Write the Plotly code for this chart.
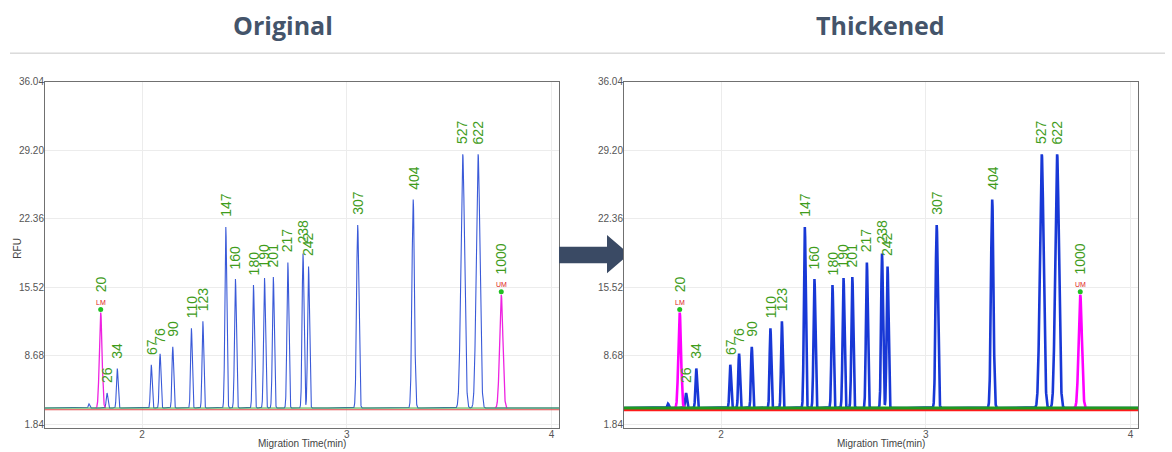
import numpy as np
import plotly.graph_objects as go

# ---------------- data ----------------
sizes = [20, 26, 34, 67, 76, 90, 110, 123, 147, 160, 180, 190, 201, 217,
         238, 242, 307, 404, 527, 622, 1000]
times = [1.798, 1.829, 1.879, 2.045, 2.088, 2.150, 2.241, 2.297, 2.409, 2.456,
         2.544, 2.598, 2.641, 2.712, 2.786, 2.813, 3.053, 3.324, 3.566, 3.641, 3.754]
heights = [13.0, 4.98, 7.43, 7.8, 8.9, 9.58, 11.44, 12.13, 21.54, 16.34,
           15.76, 16.44, 16.54, 18.0, 18.9, 17.6, 21.73, 24.28, 28.79, 28.79, 14.78]
widths = [0.0065, 0.004, 0.004, 0.004, 0.004, 0.004, 0.004, 0.004, 0.0045, 0.0045,
          0.0045, 0.0045, 0.0045, 0.0045, 0.0045, 0.0045, 0.0055, 0.006, 0.009, 0.009, 0.008]
markers = {20: "LM", 1000: "UM"}

minor_times = [1.741]
minor_heights = [3.9]
minor_widths = [0.0035]

baseline_green = 3.48
baseline_red = 3.31

y_ticks = [1.84, 8.68, 15.52, 22.36, 29.20, 36.04]
x_ticks = [2, 3, 4]
x_range = [1.526, 4.036]
y_range = [1.45, 36.04]

titles = ["Original", "Thickened"]

# ---------------- build traces ----------------
W, H = 1172, 452
t = np.union1d(np.arange(x_range[0], x_range[1], 0.0005), np.array(times + minor_times))


def peak_sum(sel_times, sel_heights, sel_widths, base):
    y = np.zeros_like(t)
    for ti, hi, wi in zip(sel_times, sel_heights, sel_widths):
        y += (hi - base) * np.exp(-0.5 * ((t - ti) / wi) ** 2)
    return y


blue_idx = [i for i, s in enumerate(sizes) if s not in markers]
mag_idx = [i for i, s in enumerate(sizes) if s in markers]

blue_y = baseline_green + peak_sum([times[i] for i in blue_idx] + minor_times,
                                   [heights[i] for i in blue_idx] + minor_heights,
                                   [widths[i] for i in blue_idx] + minor_widths,
                                   baseline_green)
mag_contrib = peak_sum([times[i] for i in mag_idx], [heights[i] for i in mag_idx],
                       [widths[i] for i in mag_idx], baseline_green)
mag_y = np.where(mag_contrib > 0.01, baseline_green + mag_contrib, np.nan)
mag_y_list = [None if np.isnan(v) else float(v) for v in mag_y]

styles = [
    dict(blue="#3a5ad8", bw=1.1, mag="#ee22e0", mw=1.3, green="#3aa83a", gw=1.0, red="#e04848", rw=1.0),
    dict(blue="#1838d6", bw=2.6, mag="#ff00ff", mw=2.6, green="#1f9a1f", gw=3.0, red="#ff1a1a", rw=3.0),
]

x_domains = [[45 / W, 559 / W], [624 / W, 1138 / W]]
y_domain = [1 - 430 / H, 1 - 77 / H]

fig = go.Figure()
annotations = []

for k in range(2):
    xa = "x" if k == 0 else "x2"
    ya = "y" if k == 0 else "y2"
    st = styles[k]
    fig.add_trace(go.Scatter(x=t, y=blue_y, mode="lines", xaxis=xa, yaxis=ya,
                             line=dict(color=st["blue"], width=st["bw"]), hoverinfo="skip"))
    fig.add_trace(go.Scatter(x=t, y=mag_y_list, mode="lines", xaxis=xa, yaxis=ya, connectgaps=False,
                             line=dict(color=st["mag"], width=st["mw"]), hoverinfo="skip"))
    fig.add_trace(go.Scatter(x=[x_range[0], x_range[1]], y=[baseline_red, baseline_red], mode="lines",
                             xaxis=xa, yaxis=ya, line=dict(color=st["red"], width=st["rw"]), hoverinfo="skip"))
    fig.add_trace(go.Scatter(x=[x_range[0], x_range[1]], y=[baseline_green, baseline_green], mode="lines",
                             xaxis=xa, yaxis=ya, line=dict(color=st["green"], width=st["gw"]), hoverinfo="skip"))
    # marker dots on LM / UM
    fig.add_trace(go.Scatter(x=[times[i] for i in mag_idx], y=[heights[i] + 0.3 for i in mag_idx],
                             mode="markers", xaxis=xa, yaxis=ya,
                             marker=dict(color="#22c022", size=5, symbol="circle"), hoverinfo="skip"))

    for i, s in enumerate(sizes):
        shift = 18 if s in markers else 8
        annotations.append(dict(x=times[i], y=heights[i], xref=xa, yref=ya, text=str(s),
                                textangle=-90, showarrow=False, xanchor="center", yanchor="bottom",
                                yshift=shift, font=dict(family="Liberation Sans, Arial", size=14, color="#3f9c1c")))
        if s in markers:
            annotations.append(dict(x=times[i], y=heights[i], xref=xa, yref=ya, text=markers[s],
                                    showarrow=False, xanchor="center", yanchor="bottom", yshift=5,
                                    font=dict(family="Liberation Sans, Arial", size=7, color="#e02020")))

    # axis title
    annotations.append(dict(x=(x_domains[k][0] + x_domains[k][1]) / 2, y=1 - 445 / H, xref="paper", yref="paper",
                            text="Migration Time(min)", showarrow=False, xanchor="center", yanchor="middle",
                            font=dict(family="Liberation Sans, Arial", size=10, color="#444")))
    # chart title
    annotations.append(dict(x=[283, 880][k] / W, y=1 - 19 / H, xref="paper", yref="paper", text="<b>%s</b>" % titles[k],
                            showarrow=False, xanchor="center", yanchor="middle",
                            font=dict(family="Open Sans", size=25, color="#44546a")))

annotations.append(dict(x=18 / W, y=1 - 247 / H, xref="paper", yref="paper", text="RFU", textangle=-90,
                        showarrow=False, xanchor="center", yanchor="middle",
                        font=dict(family="Liberation Sans, Arial", size=10, color="#444")))

axis_common = dict(showline=True, mirror=True, linecolor="#707070", linewidth=1, zeroline=False,
                   ticks="", showgrid=True, gridcolor="#ececec", gridwidth=1,
                   tickfont=dict(family="Liberation Sans, Arial", size=10, color="#555"))

layout = dict(
    width=W, height=H, margin=dict(l=0, r=0, t=0, b=0),
    paper_bgcolor="white", plot_bgcolor="white", showlegend=False,
    annotations=annotations,
)
for k in range(2):
    sx = "" if k == 0 else "2"
    layout["xaxis" + sx] = dict(domain=x_domains[k], anchor="y" + sx, range=x_range,
                                tickvals=x_ticks, ticktext=[str(v) for v in x_ticks],
                                ticklabelstandoff=-3, **axis_common)
    layout["yaxis" + sx] = dict(domain=y_domain, anchor="x" + sx, range=y_range,
                                tickvals=y_ticks, ticktext=["%.2f" % v for v in y_ticks],
                                ticklabelstandoff=-2, **axis_common)


def px(x, y):
    return "%.5f,%.5f" % (x / W, 1 - y / H)


arrow_pts = [(559, 245), (607, 245), (607, 233), (623, 247), (623, 258), (607, 272), (607, 262), (559, 262)]
arrow_path = "M" + " L".join(px(a, b) for a, b in arrow_pts) + " Z"

layout["shapes"] = [
    dict(type="line", xref="paper", yref="paper", x0=10 / W, x1=1165 / W, y0=1 - 48 / H, y1=1 - 48 / H,
         line=dict(color="#c8c8c8", width=1)),
    dict(type="path", xref="paper", yref="paper", path=arrow_path, fillcolor="#3a4a64",
         line=dict(width=0), layer="above"),
]

fig.update_layout(**layout)
fig.write_html("out.html", config={"displayModeBar": False},
               post_script="document.body.style.margin='0';document.body.style.overflow='hidden';")
